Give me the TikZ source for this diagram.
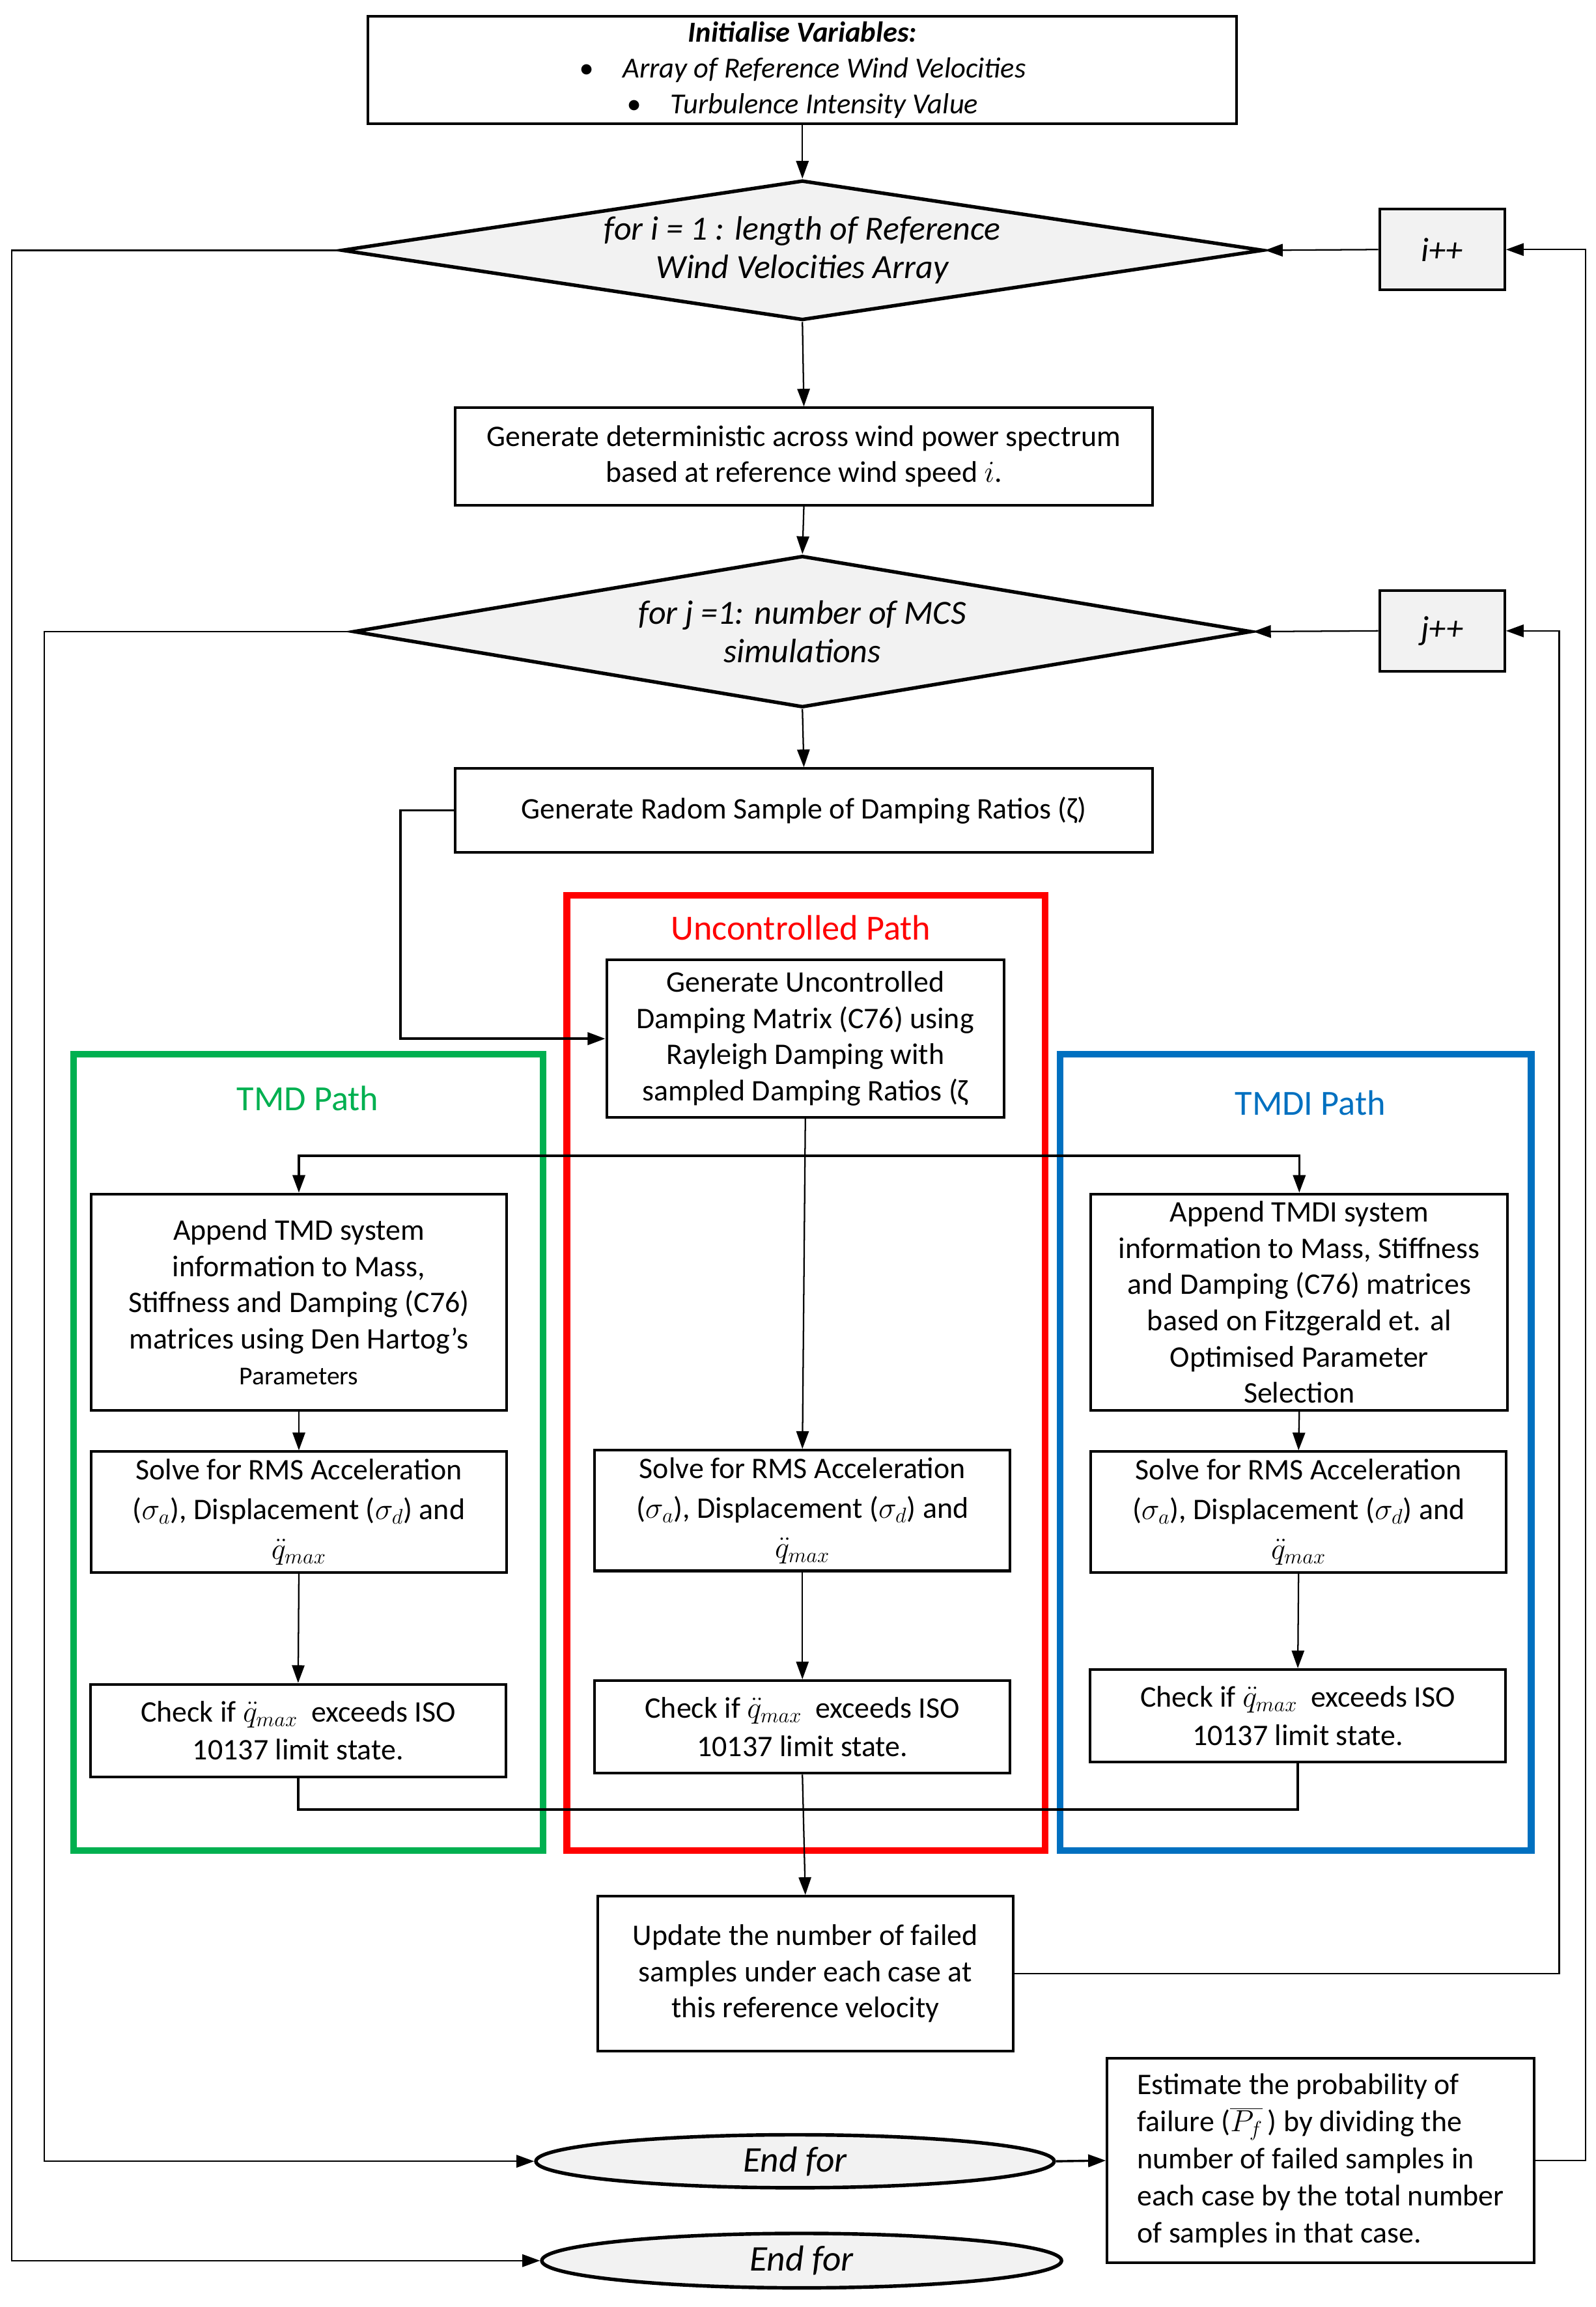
\documentclass[tikz,border=0pt]{standalone}
\usepackage{fontspec}
\setmainfont{Carlito}
\usetikzlibrary{shapes.geometric,arrows.meta,calc}
\definecolor{lgray}{HTML}{F2F2F2}
\definecolor{pgreen}{HTML}{00B050}
\definecolor{pred}{HTML}{FF0000}
\definecolor{pblue}{HTML}{0070C0}
\begin{document}
\begin{tikzpicture}[x=1pt,y=-1pt,
  box/.style={draw, line width=1.8pt, fill=white, align=center, inner sep=0pt,
    font=\fontsize{20.3}{24.6}\selectfont},
  incbox/.style={draw, line width=1.8pt, fill=lgray, inner sep=0pt,
    minimum width=85pt, minimum height=55pt, font=\itshape\fontsize{23}{26}\selectfont},
  decide/.style={draw, diamond, line width=2.4pt, fill=lgray, inner sep=0pt, aspect=6},
  dtext/.style={align=center, font=\itshape\fontsize{23}{26}\selectfont},
  endfor/.style={draw, ellipse, line width=2.4pt, fill=lgray, inner sep=0pt,
    font=\itshape\fontsize{24.5}{26}\selectfont},
  frame/.style={line width=4.5pt},
  ftitle/.style={font=\fontsize{24}{26}\selectfont},
  conn/.style={line width=1pt},
  arr/.style={conn, -{Triangle[length=12pt,width=8.5pt]}},
]
\useasboundingbox (0,0) rectangle (1084,1567);

% coloured path frames
\draw[frame, pred]   (385,608) rectangle (710,1257);
\draw[frame, pgreen] (50,716)  rectangle (369,1257);
\draw[frame, pblue]  (720,716) rectangle (1040,1257);
\node[ftitle, text=pred]   (tU) at (544,630) {Uncontrolled Path};
\node[ftitle, text=pgreen] (tT) at (209,746) {TMD Path};
\node[ftitle, text=pblue]  (tI) at (890,749) {TMDI Path};

% top part
\node[box, minimum width=590pt, minimum height=73pt, font=\itshape\fontsize{19.7}{24.5}\selectfont]
  (init) at (545,47.5)
  {\textbf{Initialise Variables:}\\
   •\hspace{20pt}Array of Reference Wind Velocities\\
   •\hspace{20pt}Turbulence Intensity Value};

\node[decide, minimum width=626pt, minimum height=95pt] (d1) at (545,170) {};
\node[dtext] (d1t) at (545,170) {for i = 1 : length of Reference\\Wind Velocities Array};
\node[incbox] (ipp) at (979.5,169.5) {i++};

\node[box, minimum width=474pt, minimum height=66pt] (gen) at (546,310)
  {Generate deterministic across wind power spectrum\\based at reference wind speed $i$.};

\node[decide, minimum width=610pt, minimum height=103pt] (d2) at (545,429) {};
\node[dtext] (d2t) at (545,429) {for j =1: number of MCS\\simulations};
\node[incbox] (jpp) at (979.5,428.5) {j++};

\node[box, minimum width=474pt, minimum height=57pt] (samp) at (546,550.5)
  {Generate Radom Sample of Damping Ratios (ζ)};

\node[box, minimum width=270pt, minimum height=107pt] (unc) at (547,705.5)
  {Generate Uncontrolled\\Damping Matrix (C76) using\\Rayleigh Damping with\\sampled Damping Ratios (ζ};

% append boxes
\node[box, minimum width=282pt, minimum height=147pt] (appT) at (203,884.5)
  {Append TMD system\\information to Mass,\\Stiffness and Damping (C76)\\matrices using Den Hartog's\\{\fontsize{17.5}{24.6}\selectfont Parameters}};
\node[box, minimum width=283pt, minimum height=147pt] (appI) at (882.5,884.5)
  {Append TMDI system\\information to Mass, Stiffness\\and Damping (C76) matrices\\based on Fitzgerald et. al\\Optimised Parameter\\Selection};

% solve boxes
\tikzset{solve/.style={box, minimum width=282pt, minimum height=82pt,
  font=\fontsize{20.3}{27}\selectfont}}
\node[solve] (solT) at (203,1027)
  {Solve for RMS Acceleration\\($\sigma_a$), Displacement ($\sigma_d$) and\\$\ddot{q}_{max}$};
\node[solve] (solU) at (545,1026)
  {Solve for RMS Acceleration\\($\sigma_a$), Displacement ($\sigma_d$) and\\$\ddot{q}_{max}$};
\node[solve] (solI) at (882,1027)
  {Solve for RMS Acceleration\\($\sigma_a$), Displacement ($\sigma_d$) and\\$\ddot{q}_{max}$};

% check boxes
\tikzset{check/.style={box, minimum width=282pt, minimum height=63pt,
  font=\fontsize{20.3}{26}\selectfont}}
\node[check] (chkT) at (202.5,1175.5) {Check if $\ddot{q}_{max}$\ \ exceeds ISO\\10137 limit state.};
\node[check] (chkU) at (545,1173)     {Check if $\ddot{q}_{max}$\ \ exceeds ISO\\10137 limit state.};
\node[check] (chkI) at (881.5,1165.5) {Check if $\ddot{q}_{max}$\ \ exceeds ISO\\10137 limit state.};

\node[box, minimum width=282pt, minimum height=105pt] (upd) at (547,1340.5)
  {Update the number of failed\\samples under each case at\\this reference velocity};

\node[endfor, minimum width=352pt, minimum height=36pt] (end1) at (540,1468) {End for};
\node[endfor, minimum width=353pt, minimum height=37pt] (end2) at (544.5,1535.5) {End for};

\node[box, align=left, minimum width=290pt, minimum height=139pt,
  font=\fontsize{20.3}{25.2}\selectfont] (est) at (897,1467.5)
  {Estimate the probability of\\failure ($\overline{P_f}$\,) by dividing the\\number of failed samples in\\each case by the total number\\of samples in that case.};

% coordinates for routing
\coordinate (lo1) at (8,170);
\coordinate (lo1b) at (8,1535.5);
\coordinate (lo2) at (30,429);
\coordinate (lo2b) at (30,1468);
\coordinate (ro1) at (1077,1467.5);
\coordinate (ro1t) at (1077,169.5);
\coordinate (ro2) at (1059,1340.5);
\coordinate (ro2t) at (1059,428.5);
\coordinate (sl) at (272,550.5);
\coordinate (slb) at (272,705.5);
\coordinate (split) at (547,785);
\coordinate (merge) at (545,1229);

% connectors
\draw[arr] (init.south) -- (d1.north);
\draw[arr] (d1.south) -- (gen.north);
\draw[arr] (gen.south) -- (d2.north);
\draw[arr] (d2.south) -- (samp.north);
\draw[arr] (ipp.west) -- (d1.east);
\draw[arr] (jpp.west) -- (d2.east);

\draw[arr, line width=1.5pt] (samp.west) -- (sl) -- (slb) -- (unc.west);
\draw[arr] (unc.south) -- (solU.north);
\draw[arr, line width=1.5pt] (split) -| (appT.north);
\draw[arr, line width=1.5pt] (split) -| (appI.north);

\draw[arr] (appT.south) -- (solT.north);
\draw[arr] (appI.south) -- (solI.north);
\draw[arr] (solT.south) -- (chkT.north);
\draw[arr] (solU.south) -- (chkU.north);
\draw[arr] (solI.south) -- (chkI.north);

\draw[conn, line width=1.5pt] (chkT.south) |- (merge);
\draw[conn, line width=1.5pt] (chkI.south) |- (merge);
\draw[arr] (chkU.south) -- (upd.north);

\draw[arr] (upd.east) -- (ro2) -- (ro2t) -- (jpp.east);
\draw[arr] (est.east) -- (ro1) -- (ro1t) -- (ipp.east);
\draw[arr] (d1.west) -- (lo1) -- (lo1b) -- (end2.west);
\draw[arr] (d2.west) -- (lo2) -- (lo2b) -- (end1.west);
\draw[arr, line width=1.5pt] (end1.east) -- (est.west);
\end{tikzpicture}
\end{document}
